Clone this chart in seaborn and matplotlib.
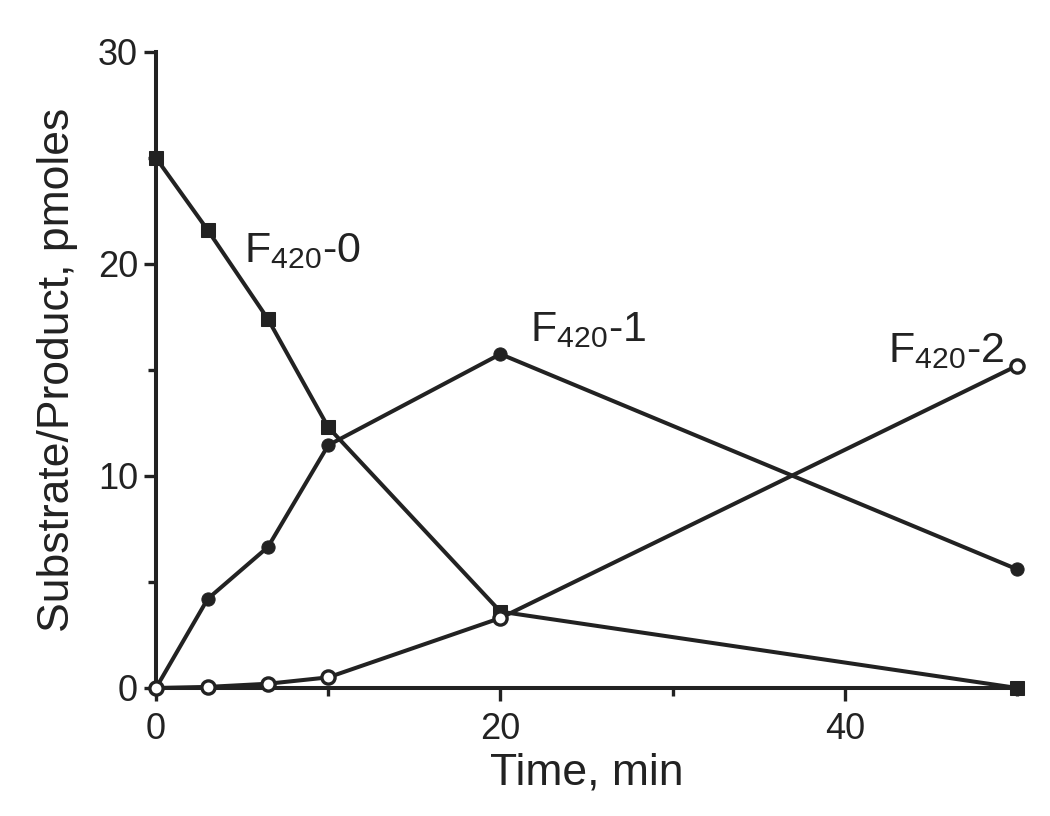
import numpy as np
import pandas as pd
import seaborn as sns
import matplotlib.pyplot as plt
from matplotlib.ticker import MultipleLocator

# time points (min) and amounts (pmoles)
time_min = [0, 3, 6.5, 10, 20, 50]
f420_0 = [25.0, 21.6, 17.4, 12.3, 3.6, 0.0]
f420_1 = [0.0, 4.2, 6.65, 11.45, 15.75, 5.6]
f420_2 = [0.0, 0.05, 0.2, 0.5, 3.3, 15.2]

labels = [r"F$_{420}$-0", r"F$_{420}$-1", r"F$_{420}$-2"]
label_pos = [(5.1, 20.6), (21.7, 16.9), (42.5, 15.9)]

ink = "#222222"

sns.set_style("ticks")
plt.rcParams['font.family'] = ['Liberation Sans', 'DejaVu Sans']
plt.rcParams['mathtext.default'] = 'regular'

df = pd.DataFrame({"time": time_min * 3,
                   "value": f420_0 + f420_1 + f420_2,
                   "series": ["F420-0"] * 6 + ["F420-1"] * 6 + ["F420-2"] * 6})

fig = plt.figure(figsize=(10.5, 8.16), dpi=100)
ax = fig.add_axes([0.1486, 0.1569, 0.9686 - 0.1486, 0.9363 - 0.1569])

styles = {"F420-0": dict(marker="s", markersize=9.5, markerfacecolor=ink),
          "F420-1": dict(marker="o", markersize=9.5, markerfacecolor=ink),
          "F420-2": dict(marker="o", markersize=9.5, markerfacecolor="white",
                         markeredgewidth=2.4)}

for name, grp in df.groupby("series"):
    sns.lineplot(data=grp, x="time", y="value", ax=ax, color=ink, lw=2.9,
                 markeredgecolor=ink, clip_on=False, zorder=3, **styles[name])

for lab, (lx, ly) in zip(labels, label_pos):
    ax.text(lx, ly, lab, fontsize=31, color=ink, va="center", ha="left")

ax.set_xlim(0, 50)
ax.set_ylim(0, 30)
ax.xaxis.set_major_locator(MultipleLocator(20))
ax.xaxis.set_minor_locator(MultipleLocator(10))
ax.yaxis.set_major_locator(MultipleLocator(10))
ax.yaxis.set_minor_locator(MultipleLocator(5))

for s in ["top", "right"]:
    ax.spines[s].set_visible(False)
for s in ["left", "bottom"]:
    ax.spines[s].set_linewidth(2.9)
    ax.spines[s].set_color(ink)

ax.tick_params(which="major", length=9, width=2.4, color=ink, labelsize=26,
               labelcolor=ink)
ax.tick_params(which="minor", length=6, width=2.4, color=ink)
ax.tick_params(axis="x", which="major", pad=8)
ax.tick_params(axis="y", which="major", pad=4)

ax.set_xlabel("Time, min", fontsize=32, color=ink, labelpad=4)
ax.set_ylabel("Substrate/Product, pmoles", fontsize=32, color=ink, labelpad=14)
if ax.get_legend() is not None:
    ax.get_legend().remove()

fig.savefig("out.png", dpi=100)
